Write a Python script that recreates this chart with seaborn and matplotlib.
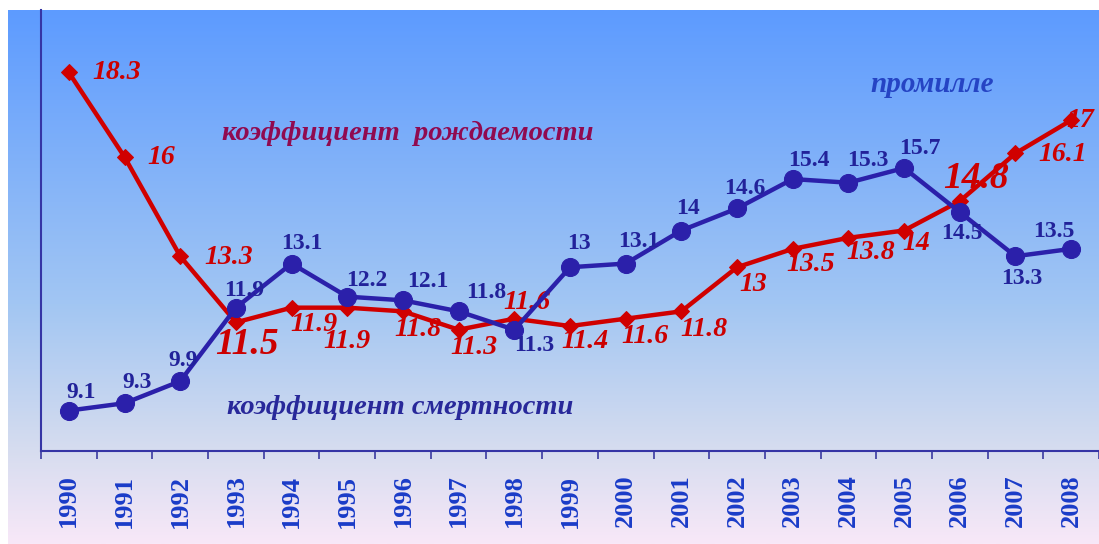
import numpy as np
import pandas as pd
import matplotlib
matplotlib.use("Agg")
import matplotlib.pyplot as plt
from matplotlib.colors import LinearSegmentedColormap
import seaborn as sns

# Datos
anios = [str(a) for a in range(1990, 2009)]
natalidad = [18.3, 16, 13.3, 11.5, 11.9, 11.9, 11.8, 11.3, 11.6, 11.4,
             11.6, 11.8, 13, 13.5, 13.8, 14, 14.8, 16.1, 17]
mortalidad = [9.1, 9.3, 9.9, 11.9, 13.1, 12.2, 12.1, 11.8, 11.3, 13,
              13.1, 14, 14.6, 15.4, 15.3, 15.7, 14.5, 13.3, 13.5]

# desplazamientos de las etiquetas (pixeles, y hacia arriba)
off_nat = [(48, 0), (37, 0), (48, -1), (11, -22), (22, -17), (0, -34), (15, -18),
           (15, -18), (13, 16), (15, -15), (19, -18), (23, -18), (16, -17),
           (18, -16), (22, -15), (12, -13), (16, 23), (47, -1), (9, 0)]
off_mort = [(12, 18), (13, 21), (3, 21), (8, 17), (10, 20), (19, 16), (25, 19),
            (28, 19), (20, -16), (9, 24), (13, 22), (7, 22), (8, 20), (16, 19),
            (19, 22), (16, 20), (2, -21), (6, -22), (-17, 17)]
grandes = {3, 16}

df = pd.DataFrame({"pos": np.arange(len(anios)), "anio": anios,
                   "nat": natalidad, "mort": mortalidad})

sns.set_style("white")
plt.rcParams['font.family'] = ['Liberation Serif', 'DejaVu Serif']

W, H = 1099, 544
fig = plt.figure(figsize=(W / 100, H / 100), dpi=100)
fig.patch.set_facecolor("white")

# fondo degradado
bg = fig.add_axes([8 / W, 0, 1 - 8 / W, 1 - 10 / H])
cmap = LinearSegmentedColormap.from_list(
    "fondo", [(0, "#5d9bff"), (0.55, "#a2c6f3"), (0.82, "#d5dcef"), (1, "#f8e8f8")])
grad = np.linspace(0, 1, 256).reshape(-1, 1)
bg.imshow(grad, aspect="auto", cmap=cmap, extent=[0, 1, 0, 1], origin="upper")
bg.axis("off")

ax = fig.add_axes([41 / W, 93 / H, (W - 41) / W, (451 - 10) / H])
ax.patch.set_alpha(0)

sns.lineplot(data=df, x="pos", y="nat", ax=ax, color="#d00000", linewidth=3.2,
             marker="D", markersize=8, markeredgecolor="#d00000", zorder=3)
sns.lineplot(data=df, x="pos", y="mort", ax=ax, color="#2b20aa", linewidth=3.2,
             marker="o", markersize=13, markeredgecolor="#2b20aa", zorder=4)

for i, (v, (dx, dy)) in enumerate(zip(natalidad, off_nat)):
    ax.annotate(f"{v:g}", (i, v), xytext=(dx, dy), textcoords="offset pixels",
                ha="center", va="center", color="#cc0000", fontstyle="italic",
                fontweight="bold", fontsize=27 if i in grandes else 20, zorder=2)

for i, (v, (dx, dy)) in enumerate(zip(mortalidad, off_mort)):
    ax.annotate(f"{v:g}", (i, v), xytext=(dx, dy), textcoords="offset pixels",
                ha="center", va="center", color="#22229a",
                fontweight="bold", fontsize=17, zorder=5)

fig.text(222 / W, 1 - 133 / H, "коэффициент  рождаемости", color="#900a50",
         fontstyle="italic", fontweight="bold", fontsize=20.5, va="center", ha="left")
fig.text(227 / W, 1 - 407 / H, "коэффициент смертности", color="#28289a",
         fontstyle="italic", fontweight="bold", fontsize=20.5, va="center", ha="left")
fig.text(870 / W, 1 - 84 / H, "промилле", color="#2544c4",
         fontstyle="italic", fontweight="bold", fontsize=21, va="center", ha="left")

ax.set_xlim(-0.5, -0.5 + (W - 41) / 55.94)
ax.set_ylim(8, 20)
ax.set_xticks(df["pos"])
ax.set_xticklabels(anios, rotation=90, color="#1a3cc8", fontweight="bold", fontsize=19)
ax.set_xticks(np.arange(-0.5, len(anios)), minor=True)
ax.tick_params(axis="x", which="major", length=0, pad=17)
ax.tick_params(axis="x", which="minor", length=6, width=1.2, color="#3a3aa0",
               direction="out", bottom=True)
ax.set_yticks([])
ax.set_xlabel("")
ax.set_ylabel("")
for s in ["top", "right"]:
    ax.spines[s].set_visible(False)
for s in ["left", "bottom"]:
    ax.spines[s].set_color("#3535a5")
    ax.spines[s].set_linewidth(1.5)

fig.savefig("out.png", dpi=100)
